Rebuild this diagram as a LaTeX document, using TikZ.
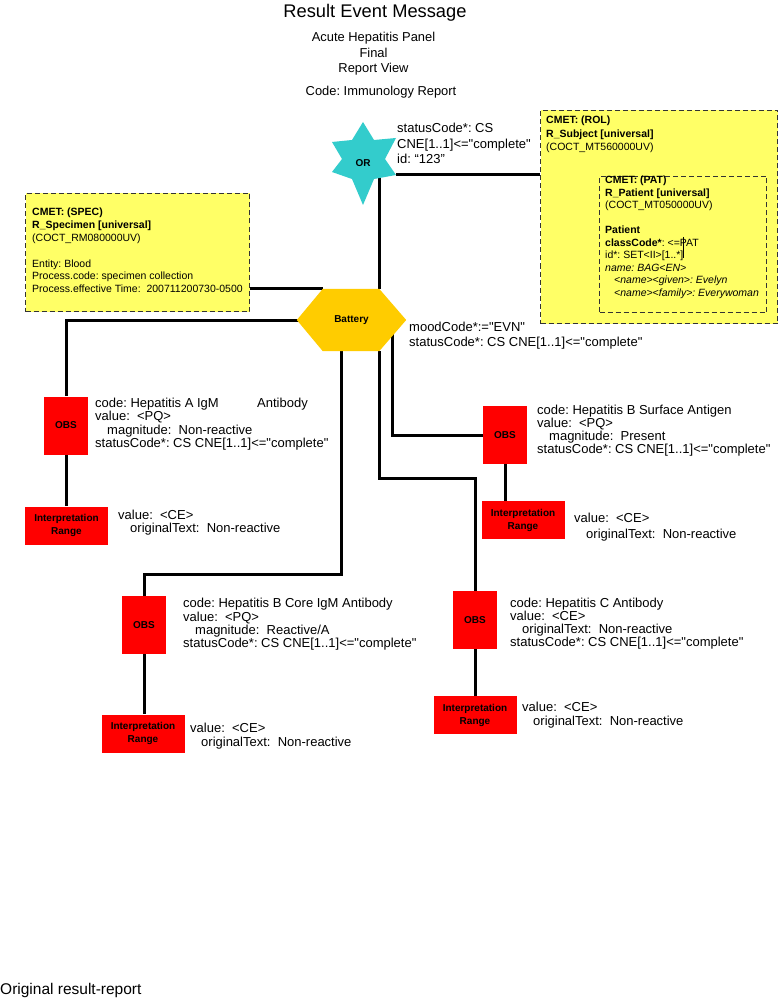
\documentclass[tikz,border=0pt]{standalone}
\usepackage{fontspec}
\setmainfont{Liberation Sans}[Ligatures=TeXOff]
\usetikzlibrary{calc}
\pgfdeclarelayer{bg}
\pgfdeclarelayer{mid}
\pgfsetlayers{bg,mid,main}
\definecolor{cmetyellow}{RGB}{255,255,102}
\definecolor{orcyan}{RGB}{51,204,204}
\definecolor{batgold}{RGB}{255,204,0}
\definecolor{obsred}{RGB}{255,0,0}
\tikzset{
  conn/.style={line width=3pt, black},
  cmetbox/.style={draw=black!80, dash pattern=on 5pt off 3pt, line width=1pt, fill=cmetyellow, anchor=north west, inner sep=0pt},
  obsbox/.style={fill=obsred, minimum width=44pt, minimum height=58pt, inner sep=0pt, font=\fontsize{10}{12}\selectfont\bfseries},
  intbox/.style={fill=obsred, minimum width=83pt, minimum height=38pt, inner sep=0pt, align=center, font=\fontsize{10}{13}\selectfont\bfseries},
  lbl/.style={anchor=north west, inner sep=0pt, align=left},
  cmettext/.style={lbl, font=\fontsize{10.5}{12.8}\selectfont},
}
\begin{document}
\frenchspacing
\begin{tikzpicture}[x=1pt,y=-1pt]
\useasboundingbox (0,0) rectangle (778,1000);
\begin{pgfonlayer}{bg}
\fill[white] (0,0) rectangle (778,1000);
\end{pgfonlayer}

% titles
\node[font=\fontsize{18.3}{20}\selectfont] (title) at (375,13) {Result Event Message};
\node[font=\fontsize{12.9}{15.5}\selectfont, align=center, anchor=north, inner sep=0pt] (sub) at (373.5,32) {Acute Hepatitis Panel\\Final\\Report View};
\node[font=\fontsize{12.9}{15}\selectfont] (code) at (381,92) {Code: Immunology Report};

% CMET boxes
\node[cmetbox, minimum width=224pt, minimum height=118pt] (spec) at (25,193) {};
\node[cmettext] (spectext) at (32,208) {\bfseries CMET: (SPEC)\\\bfseries R\_Specimen [universal]\\(COCT\_RM080000UV)\\\mbox{}\\Entity: Blood\\Process.code: specimen collection\\Process.effective Time:\ \ 200711200730-0500};

\node[cmetbox, minimum width=237pt, minimum height=213pt] (rol) at (540,110) {};
\node[lbl, font=\fontsize{10.5}{13.3}\selectfont] (roltext) at (546,116) {\bfseries CMET: (ROL)\\\bfseries R\_Subject [universal]\\(COCT\_MT560000UV)};
\node[cmetbox, minimum width=167pt, minimum height=136pt] (pat) at (599,176) {};
\node[lbl, font=\fontsize{10.5}{12.5}\selectfont] (pattext) at (605,176) {\bfseries CMET: (PAT)\\\bfseries R\_Patient [universal]\\(COCT\_MT050000UV)\\\mbox{}\\\bfseries Patient\\\textbf{classCode*}: <=PAT\\id*: SET<II>[1..*]\\\itshape name: BAG<EN>\\\itshape\hspace*{9pt}<name><given>: Evelyn\\\itshape\hspace*{9pt}<name><family>: Everywoman};
\draw[line width=0.8pt] (683,237) -- (683,258);

% star OR
\node[font=\fontsize{10}{12}\selectfont\bfseries] (or) at (363,163) {OR};
\begin{pgfonlayer}{mid}
\fill[orcyan] ($(or.center)+(0,-41)$) -- ($(or.center)+(11,-23)$) -- ($(or.center)+(33,-25)$) -- ($(or.center)+(22,-4)$) -- ($(or.center)+(33,12)$) -- ($(or.center)+(11,16)$) -- ($(or.center)+(0,42)$) -- ($(or.center)+(-11,16)$) -- ($(or.center)+(-31,9)$) -- ($(or.center)+(-21,-4)$) -- ($(or.center)+(-31,-21)$) -- ($(or.center)+(-11,-23)$) -- cycle;
\end{pgfonlayer}
\coordinate (orLR) at ($(or.center)+(33,12)$);
\node[lbl, font=\fontsize{13}{15.5}\selectfont] (ortext) at (397,123) {statusCode*: CS\\CNE[1..1]<="complete"\\id: “123”};

% Battery hexagon
\node[minimum width=109pt, minimum height=62pt, inner sep=0pt, font=\fontsize{10}{12}\selectfont\bfseries] (bat) at (351.5,320) {Battery};
\coordinate (batTL) at ($(bat.north west)+(26,0)$);
\coordinate (batTR) at ($(bat.north east)+(-27,0)$);
\coordinate (batBL) at ($(bat.south west)+(26,0)$);
\coordinate (batBR) at ($(bat.south east)+(-27,0)$);
\begin{pgfonlayer}{mid}
\fill[batgold] (bat.west) -- (batTL) -- (batTR) -- (bat.east) -- (batBR) -- (batBL) -- cycle;
\end{pgfonlayer}
\node[lbl, font=\fontsize{13}{15}\selectfont] (battext) at (409,322) {moodCode*:="EVN"\\statusCode*: CS CNE[1..1]<="complete"};

% OBS boxes
\node[obsbox] (obs1) at (66,425.5) {OBS};
\node[intbox] (int1) at (66.5,525.5) {Interpretation\\Range};
\node[obsbox] (obs2) at (505,435) {OBS};
\node[intbox] (int2) at (523,520) {Interpretation\\Range};
\node[obsbox] (obs3) at (144,625) {OBS};
\node[intbox] (int3) at (143,733.5) {Interpretation\\Range};
\node[obsbox] (obs4) at (475,620) {OBS};
\node[intbox] (int4) at (475,715) {Interpretation\\Range};

% OBS texts
\node[lbl, font=\fontsize{13}{13.3}\selectfont] (obs1text) at (95,398) {\makebox[162pt][l]{code: Hepatitis A IgM}Antibody\\value:\ \ <PQ>\\\hspace*{12pt}magnitude:\ \ Non-reactive\\statusCode*: CS CNE[1..1]<="complete"};
\node[lbl, font=\fontsize{13}{12.5}\selectfont] (int1text) at (118,510) {value:\ \ <CE>\\\hspace*{12pt}originalText:\ \ Non-reactive};

\node[lbl, font=\fontsize{13}{13}\selectfont] (obs2text) at (537,405) {code: Hepatitis B Surface Antigen\\value:\ \ <PQ>\\\hspace*{12pt}magnitude:\ \ Present\\statusCode*: CS CNE[1..1]<="complete"};
\node[lbl, font=\fontsize{13}{15.5}\selectfont] (int2text) at (574,513) {value:\ \ <CE>\\\hspace*{12pt}originalText:\ \ Non-reactive};

\node[lbl, font=\fontsize{13}{13.4}\selectfont] (obs3text) at (183,598) {code: Hepatitis B Core IgM Antibody\\value:\ \ <PQ>\\\hspace*{12pt}magnitude:\ \ Reactive/A\\statusCode*: CS CNE[1..1]<="complete"};
\node[lbl, font=\fontsize{13}{14}\selectfont] (int3text) at (190,723) {value:\ \ <CE>\\\hspace*{11pt}originalText:\ \ Non-reactive};

\node[lbl, font=\fontsize{13}{13}\selectfont] (obs4text) at (510,598) {code: Hepatitis C Antibody\\value:\ \ <CE>\\\hspace*{12pt}originalText:\ \ Non-reactive\\statusCode*: CS CNE[1..1]<="complete"};
\node[lbl, font=\fontsize{13}{14}\selectfont] (int4text) at (522,702) {value:\ \ <CE>\\\hspace*{11pt}originalText:\ \ Non-reactive};

\node[anchor=west, inner sep=0pt, font=\fontsize{15.5}{18}\selectfont] (caption) at (0,990) {Original result-report};

% connectors
\begin{pgfonlayer}{bg}
\draw[conn] (spec.east |- batTL) -- (batTL);
\draw[conn] (batTR) -- (batTR |- or.center);
\draw[conn] (orLR) -- (orLR -| rol.west);
\draw[conn] (bat.center) -- (bat.center -| obs1.north) -- (obs1.north);
\draw[conn] ([xshift=-10.5pt]bat.center) -- ++(0,254) -| (obs3.north);
\draw[conn] (batBR) -- ++(0,127) -| (obs4.north);
\draw[conn] ([xshift=40.5pt]bat.center) |- (obs2.west);
\draw[conn] (obs1.south) -- (obs1.south |- int1.north);
\draw[conn] (obs2.south) -- (obs2.south |- int2.north);
\draw[conn] (obs3.south) -- (obs3.south |- int3.north);
\draw[conn] (obs4.south) -- (obs4.south |- int4.north);
\end{pgfonlayer}
\end{tikzpicture}
\end{document}
